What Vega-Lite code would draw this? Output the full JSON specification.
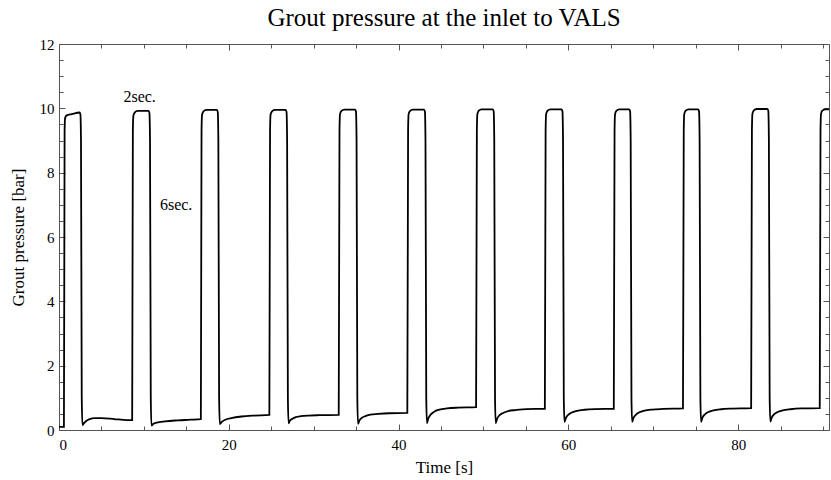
{
  "$schema": "https://vega.github.io/schema/vega-lite/v6.json",
  "width": 770,
  "height": 386,
  "autosize": {"type": "none"},
  "padding": {"left": 59, "top": 44, "right": 2, "bottom": 50},
  "background": "white",
  "config": {
    "font": "Liberation Serif",
    "view": {"stroke": "#555", "strokeWidth": 1},
    "axis": {"grid": false, "domain": false, "labelColor": "black", "titleColor": "black", "tickColor": "#555", "labelFont": "Liberation Serif", "titleFont": "Liberation Serif", "labelFontSize": 15, "titleFontSize": 17, "titleFontWeight": "normal"}
  },
  "title": {"text": "Grout pressure at the inlet to VALS", "fontSize": 25, "fontWeight": "normal", "font": "Liberation Serif", "color": "black", "anchor": "middle", "offset": 6},
  "data": {"values": [
    {"t": 0, "p": 0.1}, {"t": 0.58, "p": 0.1}, {"t": 0.66, "p": 9.3}, {"t": 0.72, "p": 9.7}, {"t": 0.9, "p": 9.78}, {"t": 1.5, "p": 9.82}, {"t": 2.42, "p": 9.87}, {"t": 2.52, "p": 9.82}, {"t": 2.59, "p": 9.0}, {"t": 2.68, "p": 1.0},
    {"t": 2.76, "p": 0.15}, {"t": 2.9, "p": 0.2}, {"t": 3.2, "p": 0.28}, {"t": 3.6, "p": 0.34}, {"t": 4.2, "p": 0.37}, {"t": 5.0, "p": 0.37}, {"t": 6.5, "p": 0.34}, {"t": 8.0, "p": 0.31}, {"t": 8.62, "p": 0.31},
    {"t": 8.7, "p": 9.3}, {"t": 8.76, "p": 9.77}, {"t": 8.91, "p": 9.87}, {"t": 9.26, "p": 9.92}, {"t": 10.55, "p": 9.92}, {"t": 10.65, "p": 9.86}, {"t": 10.72, "p": 9.0}, {"t": 10.81, "p": 1.0},
    {"t": 10.89, "p": 0.14}, {"t": 11.1, "p": 0.19}, {"t": 11.5, "p": 0.23}, {"t": 12.5, "p": 0.27}, {"t": 14, "p": 0.3}, {"t": 15.5, "p": 0.32}, {"t": 16.71, "p": 0.34},
    {"t": 16.79, "p": 9.3}, {"t": 16.85, "p": 9.8}, {"t": 17.0, "p": 9.9}, {"t": 17.35, "p": 9.95}, {"t": 18.6, "p": 9.95}, {"t": 18.7, "p": 9.89}, {"t": 18.77, "p": 9.0}, {"t": 18.86, "p": 1.0},
    {"t": 18.94, "p": 0.18}, {"t": 19.2, "p": 0.26}, {"t": 19.6, "p": 0.32}, {"t": 20.3, "p": 0.37}, {"t": 21.5, "p": 0.42}, {"t": 23, "p": 0.45}, {"t": 24.78, "p": 0.47},
    {"t": 24.86, "p": 9.3}, {"t": 24.92, "p": 9.8}, {"t": 25.07, "p": 9.9}, {"t": 25.42, "p": 9.95}, {"t": 26.7, "p": 9.95}, {"t": 26.8, "p": 9.89}, {"t": 26.87, "p": 9.0}, {"t": 26.96, "p": 1.0},
    {"t": 27.04, "p": 0.21}, {"t": 27.2, "p": 0.29}, {"t": 27.5, "p": 0.35}, {"t": 27.9, "p": 0.4}, {"t": 28.5, "p": 0.43}, {"t": 29.4, "p": 0.45}, {"t": 30.7, "p": 0.46}, {"t": 32.95, "p": 0.47},
    {"t": 33.04, "p": 9.3}, {"t": 33.1, "p": 9.81}, {"t": 33.25, "p": 9.91}, {"t": 33.6, "p": 9.96}, {"t": 34.88, "p": 9.96}, {"t": 34.98, "p": 9.9}, {"t": 35.05, "p": 9.0}, {"t": 35.14, "p": 1.0},
    {"t": 35.22, "p": 0.19}, {"t": 35.38, "p": 0.29}, {"t": 35.68, "p": 0.38}, {"t": 36.08, "p": 0.43}, {"t": 36.68, "p": 0.48}, {"t": 37.58, "p": 0.5}, {"t": 38.88, "p": 0.52}, {"t": 41.03, "p": 0.53},
    {"t": 41.12, "p": 9.3}, {"t": 41.18, "p": 9.81}, {"t": 41.33, "p": 9.91}, {"t": 41.68, "p": 9.96}, {"t": 43.0, "p": 9.96}, {"t": 43.1, "p": 9.9}, {"t": 43.17, "p": 9.0}, {"t": 43.26, "p": 1.0},
    {"t": 43.34, "p": 0.21}, {"t": 43.5, "p": 0.36}, {"t": 43.8, "p": 0.485}, {"t": 44.2, "p": 0.57}, {"t": 44.8, "p": 0.63}, {"t": 45.7, "p": 0.67}, {"t": 47.0, "p": 0.695}, {"t": 49.13, "p": 0.71},
    {"t": 49.22, "p": 9.3}, {"t": 49.28, "p": 9.82}, {"t": 49.43, "p": 9.92}, {"t": 49.78, "p": 9.97}, {"t": 51.1, "p": 9.97}, {"t": 51.2, "p": 9.91}, {"t": 51.27, "p": 9.0}, {"t": 51.36, "p": 1.0},
    {"t": 51.44, "p": 0.21}, {"t": 51.6, "p": 0.345}, {"t": 51.9, "p": 0.46}, {"t": 52.3, "p": 0.53}, {"t": 52.9, "p": 0.59}, {"t": 53.8, "p": 0.62}, {"t": 55.1, "p": 0.65}, {"t": 57.23, "p": 0.66},
    {"t": 57.32, "p": 9.3}, {"t": 57.38, "p": 9.82}, {"t": 57.53, "p": 9.92}, {"t": 57.88, "p": 9.97}, {"t": 59.2, "p": 9.97}, {"t": 59.3, "p": 9.91}, {"t": 59.37, "p": 9.0}, {"t": 59.46, "p": 1.0},
    {"t": 59.54, "p": 0.25}, {"t": 59.7, "p": 0.37}, {"t": 60.0, "p": 0.475}, {"t": 60.4, "p": 0.545}, {"t": 61.0, "p": 0.595}, {"t": 61.9, "p": 0.63}, {"t": 63.2, "p": 0.65}, {"t": 65.35, "p": 0.66},
    {"t": 65.44, "p": 9.3}, {"t": 65.5, "p": 9.82}, {"t": 65.65, "p": 9.92}, {"t": 66.0, "p": 9.97}, {"t": 67.17, "p": 9.97}, {"t": 67.27, "p": 9.91}, {"t": 67.34, "p": 9.0}, {"t": 67.43, "p": 1.0},
    {"t": 67.51, "p": 0.25}, {"t": 67.67, "p": 0.375}, {"t": 67.97, "p": 0.48}, {"t": 68.37, "p": 0.55}, {"t": 68.97, "p": 0.6}, {"t": 69.87, "p": 0.635}, {"t": 71.17, "p": 0.655}, {"t": 73.5, "p": 0.67},
    {"t": 73.59, "p": 9.3}, {"t": 73.65, "p": 9.82}, {"t": 73.8, "p": 9.92}, {"t": 74.15, "p": 9.97}, {"t": 75.29, "p": 9.97}, {"t": 75.39, "p": 9.91}, {"t": 75.46, "p": 9.0}, {"t": 75.55, "p": 1.0},
    {"t": 75.63, "p": 0.25}, {"t": 75.79, "p": 0.38}, {"t": 76.09, "p": 0.49}, {"t": 76.49, "p": 0.56}, {"t": 77.09, "p": 0.61}, {"t": 77.99, "p": 0.645}, {"t": 79.29, "p": 0.665}, {"t": 81.53, "p": 0.68},
    {"t": 81.62, "p": 9.3}, {"t": 81.68, "p": 9.83}, {"t": 81.83, "p": 9.93}, {"t": 82.18, "p": 9.98}, {"t": 83.45, "p": 9.98}, {"t": 83.55, "p": 9.92}, {"t": 83.62, "p": 9.0}, {"t": 83.71, "p": 1.0},
    {"t": 83.79, "p": 0.26}, {"t": 83.95, "p": 0.385}, {"t": 84.25, "p": 0.49}, {"t": 84.65, "p": 0.56}, {"t": 85.25, "p": 0.61}, {"t": 86.15, "p": 0.645}, {"t": 87.45, "p": 0.67}, {"t": 89.61, "p": 0.68},
    {"t": 89.7, "p": 9.3}, {"t": 89.76, "p": 9.83}, {"t": 89.91, "p": 9.93}, {"t": 90.26, "p": 9.97}, {"t": 90.7, "p": 9.97}
  ]},
  "resolve": {"axis": {"x": "independent", "y": "independent"}},
  "layer": [
    {
      "mark": {"type": "line", "color": "black", "strokeWidth": 1.8, "interpolate": "monotone", "clip": true},
      "encoding": {
        "x": {"field": "t", "type": "quantitative", "scale": {"domain": [0, 90.7], "nice": false, "zero": false},
              "axis": {"orient": "bottom", "values": [0, 20, 40, 60, 80], "ticks": false, "labelPadding": 7, "title": "Time [s]", "titlePadding": 7}},
        "y": {"field": "p", "type": "quantitative", "scale": {"domain": [0, 12], "nice": false},
              "axis": {"orient": "left", "values": [0, 2, 4, 6, 8, 10, 12], "ticks": false, "labelPadding": 5, "title": "Grout pressure [bar]", "titlePadding": 12}}
      }
    },
    {
      "mark": {"type": "point", "opacity": 0},
      "encoding": {
        "x": {"field": "t", "type": "quantitative", "axis": {"orient": "bottom", "values": [0, 20, 40, 60, 80], "labels": false, "tickSize": -6, "title": null}},
        "y": {"field": "p", "type": "quantitative", "axis": {"orient": "left", "values": [0, 2, 4, 6, 8, 10, 12], "labels": false, "tickSize": -6, "title": null}}
      }
    },
    {
      "mark": {"type": "point", "opacity": 0},
      "encoding": {
        "x": {"field": "t", "type": "quantitative", "axis": {"orient": "bottom", "values": [5, 10, 15, 25, 30, 35, 45, 50, 55, 65, 70, 75, 85, 90], "labels": false, "tickSize": -4, "title": null}},
        "y": {"field": "p", "type": "quantitative", "axis": {"orient": "left", "values": [0.5, 1, 1.5, 2.5, 3, 3.5, 4.5, 5, 5.5, 6.5, 7, 7.5, 8.5, 9, 9.5, 10.5, 11, 11.5], "labels": false, "tickSize": -4, "title": null}}
      }
    },
    {
      "mark": {"type": "point", "opacity": 0},
      "encoding": {
        "x": {"field": "t", "type": "quantitative", "axis": {"orient": "top", "values": [0, 20, 40, 60, 80], "labels": false, "tickSize": -6, "title": null}},
        "y": {"field": "p", "type": "quantitative", "axis": {"orient": "right", "values": [0, 2, 4, 6, 8, 10, 12], "labels": false, "tickSize": -6, "title": null}}
      }
    },
    {
      "mark": {"type": "point", "opacity": 0},
      "encoding": {
        "x": {"field": "t", "type": "quantitative", "axis": {"orient": "top", "values": [5, 10, 15, 25, 30, 35, 45, 50, 55, 65, 70, 75, 85, 90], "labels": false, "tickSize": -4, "title": null}},
        "y": {"field": "p", "type": "quantitative", "axis": {"orient": "right", "values": [0.5, 1, 1.5, 2.5, 3, 3.5, 4.5, 5, 5.5, 6.5, 7, 7.5, 8.5, 9, 9.5, 10.5, 11, 11.5], "labels": false, "tickSize": -4, "title": null}}
      }
    },
    {
      "data": {"values": [{"t": 9.5, "p": 10.35, "label": "2sec."}, {"t": 13.8, "p": 7.0, "label": "6sec."}]},
      "mark": {"type": "text", "font": "Liberation Serif", "fontSize": 16, "color": "black", "baseline": "middle", "align": "center"},
      "encoding": {
        "x": {"field": "t", "type": "quantitative", "axis": null},
        "y": {"field": "p", "type": "quantitative", "axis": null},
        "text": {"field": "label"}
      }
    }
  ]
}
